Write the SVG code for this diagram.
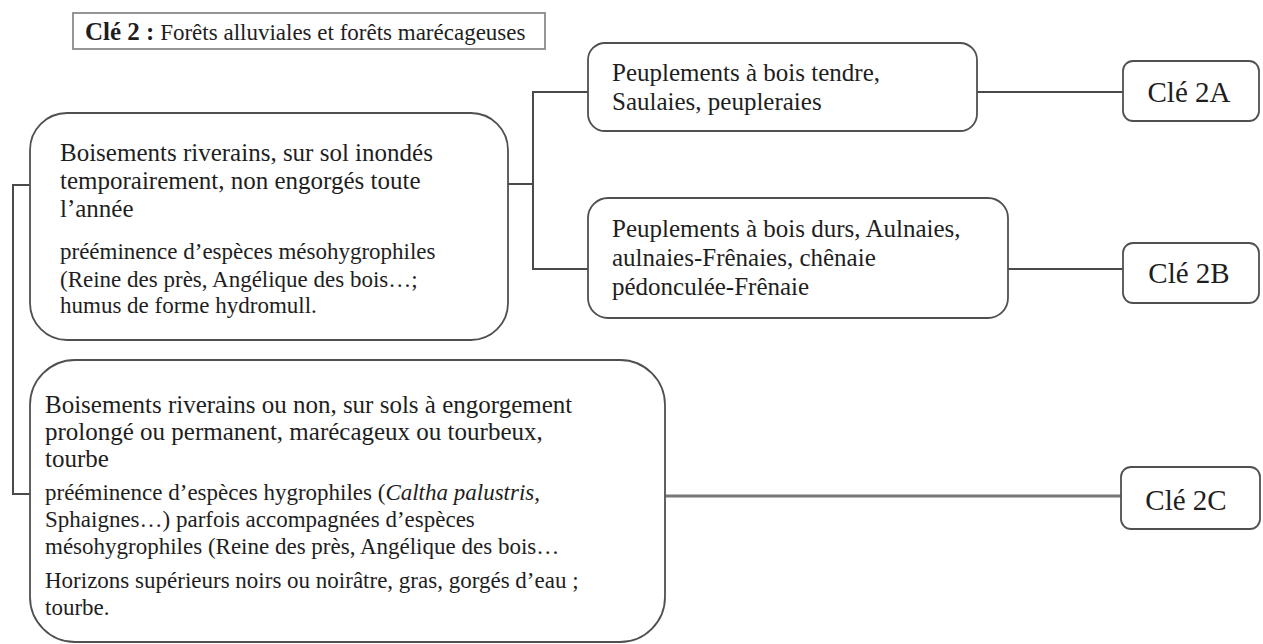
<svg xmlns="http://www.w3.org/2000/svg" width="1263" height="644" viewBox="0 0 1263 644">
<style>
  .box { fill: #fff; stroke: #505050; stroke-width: 1.8; }
  .tbox { fill: #fff; stroke: #8a8a8a; stroke-width: 1.8; }
  .conn { fill: none; stroke: #4a4a4a; stroke-width: 2; }
  .conn2 { fill: none; stroke: #777; stroke-width: 3; }
  text { font-family: "Liberation Serif", "Times New Roman", serif; fill: #1e1e1e; }
  .big { font-size: 25px; }
  .small { font-size: 23px; }
  .mid { font-size: 25px; }
  .cle { font-size: 29px; text-anchor: middle; }
</style>
<rect width="1263" height="644" fill="#fff"/>

<g id="connectors">
  <path class="conn" d="M30,185 H13 V494 H30"/>
  <path class="conn" d="M508,184 H533"/>
  <path class="conn" d="M588,92 H533 V269 H588"/>
  <path class="conn" d="M977,92 H1123"/>
  <path class="conn" d="M1008,269 H1123"/>
  <path class="conn2" d="M665,496 H1121"/>
</g>

<g id="title">
  <rect class="tbox" x="73" y="13" width="472" height="36"/>
  <text x="85" y="40"><tspan font-weight="bold" font-size="25">Clé 2 :</tspan><tspan font-size="23"> Forêts alluviales et forêts marécageuses</tspan></text>
</g>

<g id="node-box1">
  <rect class="box" x="30" y="113" width="478" height="227" rx="37" ry="37"/>
  <text class="big" x="60" y="161">Boisements riverains, sur sol inondés</text>
  <text class="big" x="60" y="189">temporairement, non engorgés toute</text>
  <text class="big" x="60" y="217">l’année</text>
  <text class="small" x="60" y="259">prééminence d’espèces mésohygrophiles</text>
  <text class="small" x="60" y="287">(Reine des près, Angélique des bois…;</text>
  <text class="small" x="60" y="313">humus de forme hydromull.</text>
</g>

<g id="node-2a">
  <rect class="box" x="588" y="43" width="389" height="88" rx="17" ry="17"/>
  <text class="mid" x="612" y="81">Peuplements à bois tendre,</text>
  <text class="mid" x="612" y="110">Saulaies, peupleraies</text>
</g>

<g id="node-2b">
  <rect class="box" x="588" y="198" width="420" height="120" rx="20" ry="20"/>
  <text class="mid" x="612" y="237">Peuplements à bois durs, Aulnaies,</text>
  <text class="mid" x="612" y="266">aulnaies-Frênaies, chênaie</text>
  <text class="mid" x="612" y="295">pédonculée-Frênaie</text>
</g>

<g id="node-box3">
  <rect class="box" x="30" y="360" width="635" height="282" rx="45" ry="45"/>
  <text class="big" x="45" y="413">Boisements riverains ou non, sur sols à engorgement</text>
  <text class="big" x="45" y="440">prolongé ou permanent, marécageux ou tourbeux,</text>
  <text class="big" x="45" y="467">tourbe</text>
  <text class="small" x="45" y="500">prééminence d’espèces hygrophiles (<tspan font-style="italic">Caltha palustris</tspan>,</text>
  <text class="small" x="45" y="527">Sphaignes…) parfois accompagnées d’espèces</text>
  <text class="small" x="45" y="554">mésohygrophiles (Reine des près, Angélique des bois…</text>
  <text class="small" x="45" y="588">Horizons supérieurs noirs ou noirâtre, gras, gorgés d’eau ;</text>
  <text class="small" x="45" y="615">tourbe.</text>
</g>

<g id="node-cle2a">
  <rect class="box" x="1123" y="61" width="136" height="60" rx="10" ry="10"/>
  <text class="cle" x="1189" y="102">Clé 2A</text>
</g>

<g id="node-cle2b">
  <rect class="box" x="1123" y="243" width="136" height="60" rx="10" ry="10"/>
  <text class="cle" x="1189" y="283">Clé 2B</text>
</g>

<g id="node-cle2c">
  <rect class="box" x="1121" y="467" width="139" height="62" rx="10" ry="10"/>
  <text class="cle" x="1186" y="510">Clé 2C</text>
</g>
</svg>
